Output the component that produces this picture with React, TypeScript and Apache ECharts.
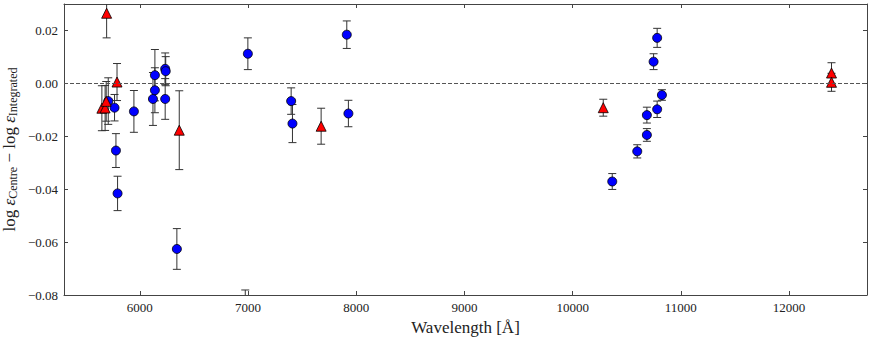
import React, { useEffect, useRef } from "react";
import * as echarts from "echarts";

// Blue circles: wavelength, value, error
const circleX = [5709, 5767, 5780, 5795, 5946, 6122, 6140, 6140, 6235, 6240, 6235, 6343, 6999, 6975, 7399, 7411, 7913, 7928, 10366, 10597, 10686, 10686, 10781, 10825, 10748, 10781];
const circleY = [-0.0067, -0.0092, -0.0254, -0.0416, -0.0106, -0.0059, 0.0031, -0.0026, 0.0055, 0.0046, -0.0059, -0.0626, 0.0112, -0.086, -0.0067, -0.0152, 0.0184, -0.0114, -0.0371, -0.0257, -0.0195, -0.012, -0.0098, -0.0044, 0.0082, 0.0172];
const circleErr = [0.0088, 0.005, 0.0064, 0.0065, 0.0079, 0.010, 0.0097, 0.0085, 0.006, 0.0055, 0.0077, 0.0077, 0.006, 0.0079, 0.005, 0.0072, 0.0052, 0.005, 0.003, 0.0025, 0.0024, 0.003, 0.0031, 0.002, 0.003, 0.0036];

// Red triangles
const triX = [5694, 5790, 5650, 5680, 5690, 6365, 7676, 10283, 12392, 12392];
const triY = [0.0265, 0.0005, -0.0094, -0.0093, -0.0068, -0.0177, -0.0162, -0.0092, 0.0039, 0.0004];
const triErr = [0.0093, 0.007, 0.0085, 0.0085, 0.0075, 0.0149, 0.0068, 0.0032, 0.0039, 0.0034];

const xMin = 5300;
const xMax = 12720;
const yMin = -0.08;
const yMax = 0.03;
const yTickStep = 0.02;

const FONT = "Liberation Serif";
const AXIS_COLOR = "#444";
const TEXT_COLOR = "#222";

function fmtY(v: number) {
  const s = Math.abs(v).toFixed(2);
  return v < -1e-9 ? "\u2212" + s : s;
}

export default function App() {
  const ref = useRef<HTMLDivElement>(null);
  useEffect(() => {
    if (!ref.current) return;
    const chart = echarts.init(ref.current, undefined, { renderer: "svg" });

    const errData = [
      ...circleX.map((x, i) => [x, circleY[i], circleErr[i]]),
      ...triX.map((x, i) => [x, triY[i], triErr[i]]),
    ];

    const errStyle = { stroke: "#333", lineWidth: 1 };
    const capHalf = 4;

    const commonX = {
      type: "value" as const,
      min: xMin,
      max: xMax,
      splitNumber: 7,
      splitLine: { show: false },
      axisLine: { show: true, onZero: false, lineStyle: { color: AXIS_COLOR, width: 1 } },
      axisTick: { show: true, inside: true, length: 4, lineStyle: { color: AXIS_COLOR } },
    };
    const commonY = {
      type: "value" as const,
      min: yMin,
      max: yMax,
      interval: yTickStep,
      splitLine: { show: false },
      axisLine: { show: true, onZero: false, lineStyle: { color: AXIS_COLOR, width: 1 } },
      axisTick: { show: true, inside: true, length: 4, lineStyle: { color: AXIS_COLOR } },
    };

    chart.setOption({
      animation: false,
      textStyle: { fontFamily: FONT },
      grid: { left: 64, right: 5, top: 4, bottom: 43, containLabel: false, outerBoundsMode: "none" },
      xAxis: [
        {
          ...commonX,
          position: "bottom",
          name: "Wavelength [Å]",
          nameLocation: "middle",
          nameGap: 24,
          nameMoveOverlap: false,
          nameTextStyle: { fontFamily: FONT, fontSize: 17, color: TEXT_COLOR },
          axisLabel: {
            fontFamily: FONT,
            fontSize: 13,
            color: TEXT_COLOR,
            margin: 6,
            showMinLabel: false,
            showMaxLabel: false,
            formatter: (v: number) => String(Math.round(v)),
          },
        },
        { ...commonX, position: "top", axisLabel: { show: false } },
      ],
      yAxis: [
        {
          ...commonY,
          position: "left",
          name: "{n|log }{e|ε}{s|Centre}{n| − log }{e|ε}{s|Integrated}",
          nameLocation: "middle",
          nameGap: 45,
          nameMoveOverlap: false,
          nameTextStyle: {
            fontFamily: FONT,
            color: TEXT_COLOR,
            rich: {
              n: { fontFamily: FONT, fontSize: 17, color: TEXT_COLOR },
              e: { fontFamily: FONT, fontSize: 17, fontStyle: "italic", color: TEXT_COLOR },
              s: { fontFamily: FONT, fontSize: 12, color: TEXT_COLOR, padding: [7, 0, 0, 0] },
            },
          },
          axisLabel: {
            fontFamily: FONT,
            fontSize: 13,
            color: TEXT_COLOR,
            margin: 6,
            showMaxLabel: false,
            formatter: (v: number) => fmtY(v),
          },
        },
        { ...commonY, position: "right", axisLabel: { show: false } },
      ],
      series: [
        {
          type: "custom",
          xAxisIndex: 0,
          yAxisIndex: 0,
          clip: true,
          encode: { x: 0, y: 1 },
          data: errData,
          z: 2,
          renderItem: (params: any, api: any) => {
            const x = api.value(0);
            const y = api.value(1);
            const e = api.value(2);
            const top = api.coord([x, y + e]);
            const bot = api.coord([x, y - e]);
            return {
              type: "group",
              children: [
                { type: "line", shape: { x1: top[0], y1: top[1], x2: bot[0], y2: bot[1] }, style: errStyle },
                { type: "line", shape: { x1: top[0] - capHalf, y1: top[1], x2: top[0] + capHalf, y2: top[1] }, style: errStyle },
                { type: "line", shape: { x1: bot[0] - capHalf, y1: bot[1], x2: bot[0] + capHalf, y2: bot[1] }, style: errStyle },
              ],
            };
          },
          markLine: {
            silent: true,
            symbol: ["none", "none"],
            label: { show: false },
            lineStyle: { color: "#555", width: 1, type: [4, 2] },
            data: [{ yAxis: 0 }],
          },
        },
        {
          type: "scatter",
          xAxisIndex: 0,
          yAxisIndex: 0,
          clip: true,
          z: 3,
          symbol: "circle",
          symbolSize: 9,
          itemStyle: { color: "#0000ff", borderColor: "#000", borderWidth: 0.8, opacity: 1 },
          data: circleX.map((x, i) => [x, circleY[i]]),
        },
        {
          type: "scatter",
          xAxisIndex: 0,
          yAxisIndex: 0,
          clip: true,
          z: 4,
          symbol: "triangle",
          symbolSize: 10,
          itemStyle: { color: "#ff0000", borderColor: "#000", borderWidth: 0.8, opacity: 1 },
          data: triX.map((x, i) => [x, triY[i]]),
        },
      ],
    });
    return () => chart.dispose();
  }, []);
  return (
    <div
      ref={ref}
      style={{ position: "fixed", left: 0, top: 0, width: 872, height: 338, background: "#fff" }}
    />
  );
}
